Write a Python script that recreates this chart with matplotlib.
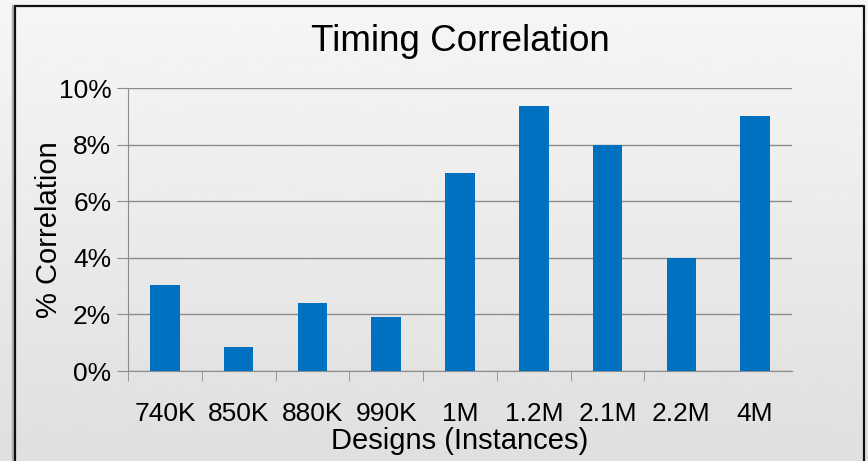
import numpy as np
import matplotlib.pyplot as plt
from matplotlib.ticker import PercentFormatter

designs = ['740K', '850K', '880K', '990K', '1M', '1.2M', '2.1M', '2.2M', '4M']
correlation = [3.05, 0.85, 2.4, 1.9, 7.0, 9.35, 8.0, 4.0, 9.0]
y_ticks = [0, 2, 4, 6, 8, 10]

plt.rcParams['font.family'] = ['Liberation Sans', 'DejaVu Sans']

W, H = 868, 461
fig = plt.figure(figsize=(W / 100, H / 100), dpi=100)

# gradient background + frame, in pixel coords
bg = fig.add_axes([0, 0, 1, 1], zorder=-10)
grad = np.linspace(0.965, 0.875, 256).reshape(-1, 1)
bg.imshow(grad, aspect='auto', cmap='gray', vmin=0, vmax=1, extent=[0, W, 0, H])
bg.plot([13, 13], [-5, H - 6], color='#b0b0b0', linewidth=2.5)
bg.plot([15, 15, 864, 864], [-5, H - 6, H - 6, -5], color='#111111', linewidth=1.6)
bg.set_xlim(0, W)
bg.set_ylim(0, H)
bg.set_axis_off()

ax = fig.add_axes([128 / W, 90 / H, 664 / W, 283 / H])
ax.patch.set_alpha(0)
x = np.arange(len(designs))
ax.bar(x, correlation, width=0.4, color='#0070C0', zorder=3)

ax.set_xlim(-0.5, len(designs) - 0.5)
ax.set_ylim(0, 10)
ax.set_yticks(y_ticks)
ax.yaxis.set_major_formatter(PercentFormatter(decimals=0))
ax.grid(axis='y', color='#8c8c8c', linewidth=1.0, zorder=0)

ax.set_xticks(x)
ax.set_xticklabels(designs)
ax.set_xticks(np.arange(len(designs) - 1) - 0.5, minor=True)
ax.tick_params(axis='x', which='major', length=0, pad=22, labelsize=19)
ax.tick_params(axis='x', which='minor', length=7, color='#8c8c8c', direction='out')
ax.tick_params(axis='y', length=8, color='#8c8c8c', pad=4, labelsize=19)

for side in ['top', 'right']:
    ax.spines[side].set_visible(False)
ax.spines['left'].set_color('#8c8c8c')
ax.spines['bottom'].set_color('#8c8c8c')

ax.set_xlabel('Designs (Instances)', fontsize=21, labelpad=1)
ax.set_ylabel('% Correlation', fontsize=21, labelpad=-3)
ax.set_title('Timing Correlation', fontsize=26.5, pad=27)

plt.savefig('out.png', dpi=100)
